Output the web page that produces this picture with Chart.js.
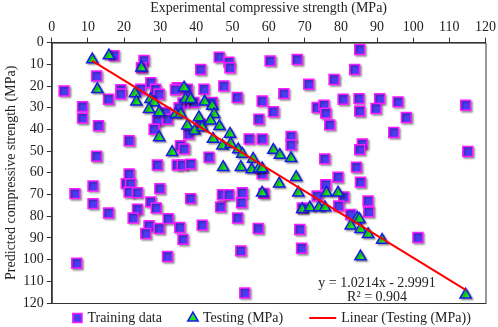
<!DOCTYPE html>
<html>
<head>
<meta charset="utf-8">
<script src="https://cdn.jsdelivr.net/npm/chart.js@4.4.0/dist/chart.umd.min.js"></script>
<style>
  html, body { margin: 0; padding: 0; background: #fff; }
  #wrap { width: 498px; height: 327px; }
</style>
</head>
<body>
<div id="wrap"><canvas id="scatter-chart" width="498" height="327"></canvas></div>
<script>
// experimental (x) vs predicted (y) compressive strength, MPa
var trainX = [3.4,8.5,8.5,12.4,12.9,12.4,15.7,17.2,19.1,19.1,21.4,25.5,24.8,24.6,27.4,28.7,29.7,31.5,29.2,32,28.3,34.7,34.2,37.5,39.3,36.3,35.2,37.9,35.6,36.6,41.2,42.1,44.4,46.3,49,49.3,47.6,51.3,41.2,43.5,54.6,58.2,58.2,57.3,60.4,29.2,34.7,36.1,38.4,
  67.9,85.2,83.8,71.1,78.1,64.2,61.3,80.6,85,90.7,95.8,114.5,73.4,75.3,75.8,85.2,89.7,98.1,76.9,94.6,66.2,66.2,85.9,85.2,115.1,75.5,84.3,
  6.4,11.4,11.4,15.7,6.9,21.4,20.6,21.8,21.4,23.7,27.4,28.9,23.7,22.5,29.9,32.2,26.9,26,29.7,35.4,36.3,32,38.4,41.6,46.7,47.2,49,52.7,52.5,51.4,57.1,52.3,53.4,58.2,
  79.2,85.4,75.8,73.4,80.8,69.3,79.4,87.5,87.7,82.7,68.6,69.1,101.3,58.7];
var trainY = [22.3,29.5,34.8,15.4,38.3,52.4,26.1,6.0,21.7,23.7,45.2,8.2,11.6,21.5,18.5,21.5,23.8,32.2,36,35.3,39.9,20.8,21.7,21.5,27.6,27.8,30,42.1,47.5,49,12.4,21.5,27.6,6.7,9,11.6,20,25.3,37.6,52.8,44.4,44.4,26.9,35.3,8.4,56.4,56.4,56.4,56,
  7.8,3.2,12.4,19.2,17,23.5,31.9,26.1,25.8,25.8,27.3,28.9,29.9,28.9,32.5,31.6,30.4,34.5,37.9,41.4,43.2,47.2,46.7,49.3,50.2,53.6,57.4,
  69.6,66.1,74.2,78.5,101.7,60.5,65,65,68.9,69.2,73.4,76.2,76.8,80.8,67.3,81.1,84.4,88,85.7,85.2,90.7,98.6,71.9,84.1,75.7,70.1,70.1,69.2,73.8,80.8,85.7,96,115.4,60.5,
  62,64.3,65.5,70.7,71.1,76.2,75.3,73,78,79.2,86.1,94.8,89.8,69.5];

var testX = [11.2,15.8,24.8,12.6,23,23.4,27.3,28.3,26.9,29.7,29.7,33.3,34.3,35.7,36.6,37,38.4,37.5,39.5,40.7,41.6,42.3,44.4,44.9,43.9,44.6,46.4,47.2,49.3,49.5,51.6,52.7,55.7,47.4,52.3,55.3,57.3,58.2,61.3,63.1,66.2,58.2,62.9,67.6,68.2,76,79.2,69.3,71.4,73.9,75.6,84.5,85.1,82.7,85.4,87.5,91.4,85.4,114.5];
var testY = [7.8,6.0,11.6,21.5,23.4,27.3,26.1,27.6,30.7,32.2,43.7,50.5,33,33,20.8,26.1,26.1,38.3,40.6,34.5,39.1,27.3,29.2,33,36,44.4,38.6,47.5,42.1,46.7,49.3,51.3,53.6,57.4,57.4,58.5,58,58,49.5,51.8,53.3,69.2,65,62,69.2,69.2,69.2,76.8,76,76,76,80.8,81.4,84.4,86,88.3,91,98.6,116.2];

// trend line fitted on testing data
var slope = 1.0214;
var intercept = -2.9991;
var r2 = 0.904;

var xTicks = [0,10,20,30,40,50,60,70,80,90,100,110,120];
var yTicks = [0,10,20,30,40,50,60,70,80,90,100,110,120];

function pairs(xs, ys) {
  return xs.map(function (x, i) { return { x: x, y: ys[i] }; });
}

var tMin = Math.min.apply(null, testX);
var tMax = Math.max.apply(null, testX);
var trend = [tMin, tMax].map(function (x) { return { x: x, y: slope * x + intercept }; });

var serif = "'Liberation Serif', 'Times New Roman', serif";

var frame = {
  id: 'frame',
  beforeDatasetDraw: function (chart, args) {
    if (args.index < 2) {
      var ctx = chart.ctx;
      ctx.save();
      ctx.shadowColor = 'rgba(0,0,0,0.35)';
      ctx.shadowOffsetX = 1.5;
      ctx.shadowOffsetY = 1.5;
      ctx.shadowBlur = 2;
    }
  },
  afterDatasetDraw: function (chart, args) {
    if (args.index < 2) chart.ctx.restore();
  },
  afterDraw: function (chart) {
    var a = chart.chartArea, ctx = chart.ctx;
    ctx.save();
    ctx.strokeStyle = '#333';
    ctx.lineWidth = 1;
    ctx.strokeRect(a.left + 0.5, a.top + 0.5, a.right - a.left, a.bottom - a.top);
    var xs = chart.scales.x, ys = chart.scales.y;
    ctx.fillStyle = '#222';
    ctx.font = "14px " + serif;
    ctx.textAlign = 'center';
    ctx.textBaseline = 'middle';
    var cx = xs.getPixelForValue(90);
    ctx.fillText('y = ' + slope + 'x - ' + Math.abs(intercept), cx, ys.getPixelForValue(111));
    ctx.fillText('R² = ' + r2, cx, ys.getPixelForValue(117.3));

    // legend row under the plot
    var ds = chart.data.datasets;
    var ly = a.bottom + 15;
    var markW = [10, 10, 27], gap = 5, sep = 26;
    ctx.textAlign = 'left';
    var widths = ds.map(function (d, i) { return markW[i] + gap + ctx.measureText(d.label).width; });
    var total = widths.reduce(function (s, w) { return s + w; }, 0) + sep * (ds.length - 1);
    var lx = (a.left + a.right) / 2 - total / 2 + 3;
    ds.forEach(function (d, i) {
      if (i < 2) {
        ctx.fillStyle = d.backgroundColor;
        ctx.strokeStyle = d.borderColor;
        ctx.lineWidth = d.borderWidth;
        Chart.helpers.drawPoint(ctx, { pointStyle: d.pointStyle, radius: i === 0 ? 6.5 : 6, rotation: 0, borderWidth: d.borderWidth }, lx + markW[i] / 2, ly);
      } else {
        ctx.strokeStyle = d.borderColor;
        ctx.lineWidth = 2;
        ctx.beginPath();
        ctx.moveTo(lx, ly);
        ctx.lineTo(lx + markW[i], ly);
        ctx.stroke();
      }
      ctx.fillStyle = '#222';
      ctx.fillText(d.label, lx + markW[i] + gap, ly);
      lx += widths[i] + sep;
    });
    ctx.restore();
  }
};

new Chart(document.getElementById("scatter-chart"), {
  type: 'scatter',
  data: {
    datasets: [{
        label: "Training data",
        data: pairs(trainX, trainY),
        pointStyle: 'rect',
        pointRadius: 7,
        pointHoverRadius: 7,
        backgroundColor: '#4b3cf2',
        borderColor: '#ff1aff',
        borderWidth: 1.5,
        order: 3
      }, {
        label: "Testing (MPa)",
        data: pairs(testX, testY),
        pointStyle: 'triangle',
        pointRadius: 6.5,
        pointHoverRadius: 6.5,
        backgroundColor: '#1ee61e',
        borderColor: '#1a1ae6',
        borderWidth: 1.5,
        order: 2
      }, {
        type: 'line',
        label: "Linear (Testing (MPa))",
        data: trend,
        borderColor: '#ff0000',
        backgroundColor: '#ff0000',
        borderWidth: 2,
        pointRadius: 0,
        fill: false,
        order: 1
      }
    ]
  },
  plugins: [frame],
  options: {
    responsive: false,
    animation: false,
    layout: { padding: { left: 3, right: 11, top: 0, bottom: 24 } },
    plugins: {
      tooltip: { enabled: false },
      legend: { display: false }
    },
    scales: {
      x: {
        type: 'linear',
        position: 'top',
        min: 0, max: 120,
        afterBuildTicks: function (s) { s.ticks = xTicks.map(function (v) { return { value: v }; }); },
        grid: { drawOnChartArea: false, drawTicks: true, tickLength: 5, color: '#333' },
        border: { color: '#333' },
        ticks: { font: { family: serif, size: 14 }, color: '#222', padding: 2, maxRotation: 0 },
        title: { display: true, text: 'Experimental compressive strength (MPa)', font: { family: serif, size: 14 }, color: '#222', padding: { top: 0, bottom: 0 } }
      },
      y: {
        type: 'linear',
        reverse: true,
        min: 0, max: 120,
        afterBuildTicks: function (s) { s.ticks = yTicks.map(function (v) { return { value: v }; }); },
        grid: { drawOnChartArea: false, drawTicks: true, tickLength: 5, color: '#333' },
        border: { color: '#333' },
        ticks: { font: { family: serif, size: 14 }, color: '#222', padding: 3 },
        title: { display: true, text: 'Predicted compressive strength (MPa)', font: { family: serif, size: 14 }, color: '#222', padding: { top: 0, bottom: 0 } }
      }
    }
  }
});
</script>
</body>
</html>
